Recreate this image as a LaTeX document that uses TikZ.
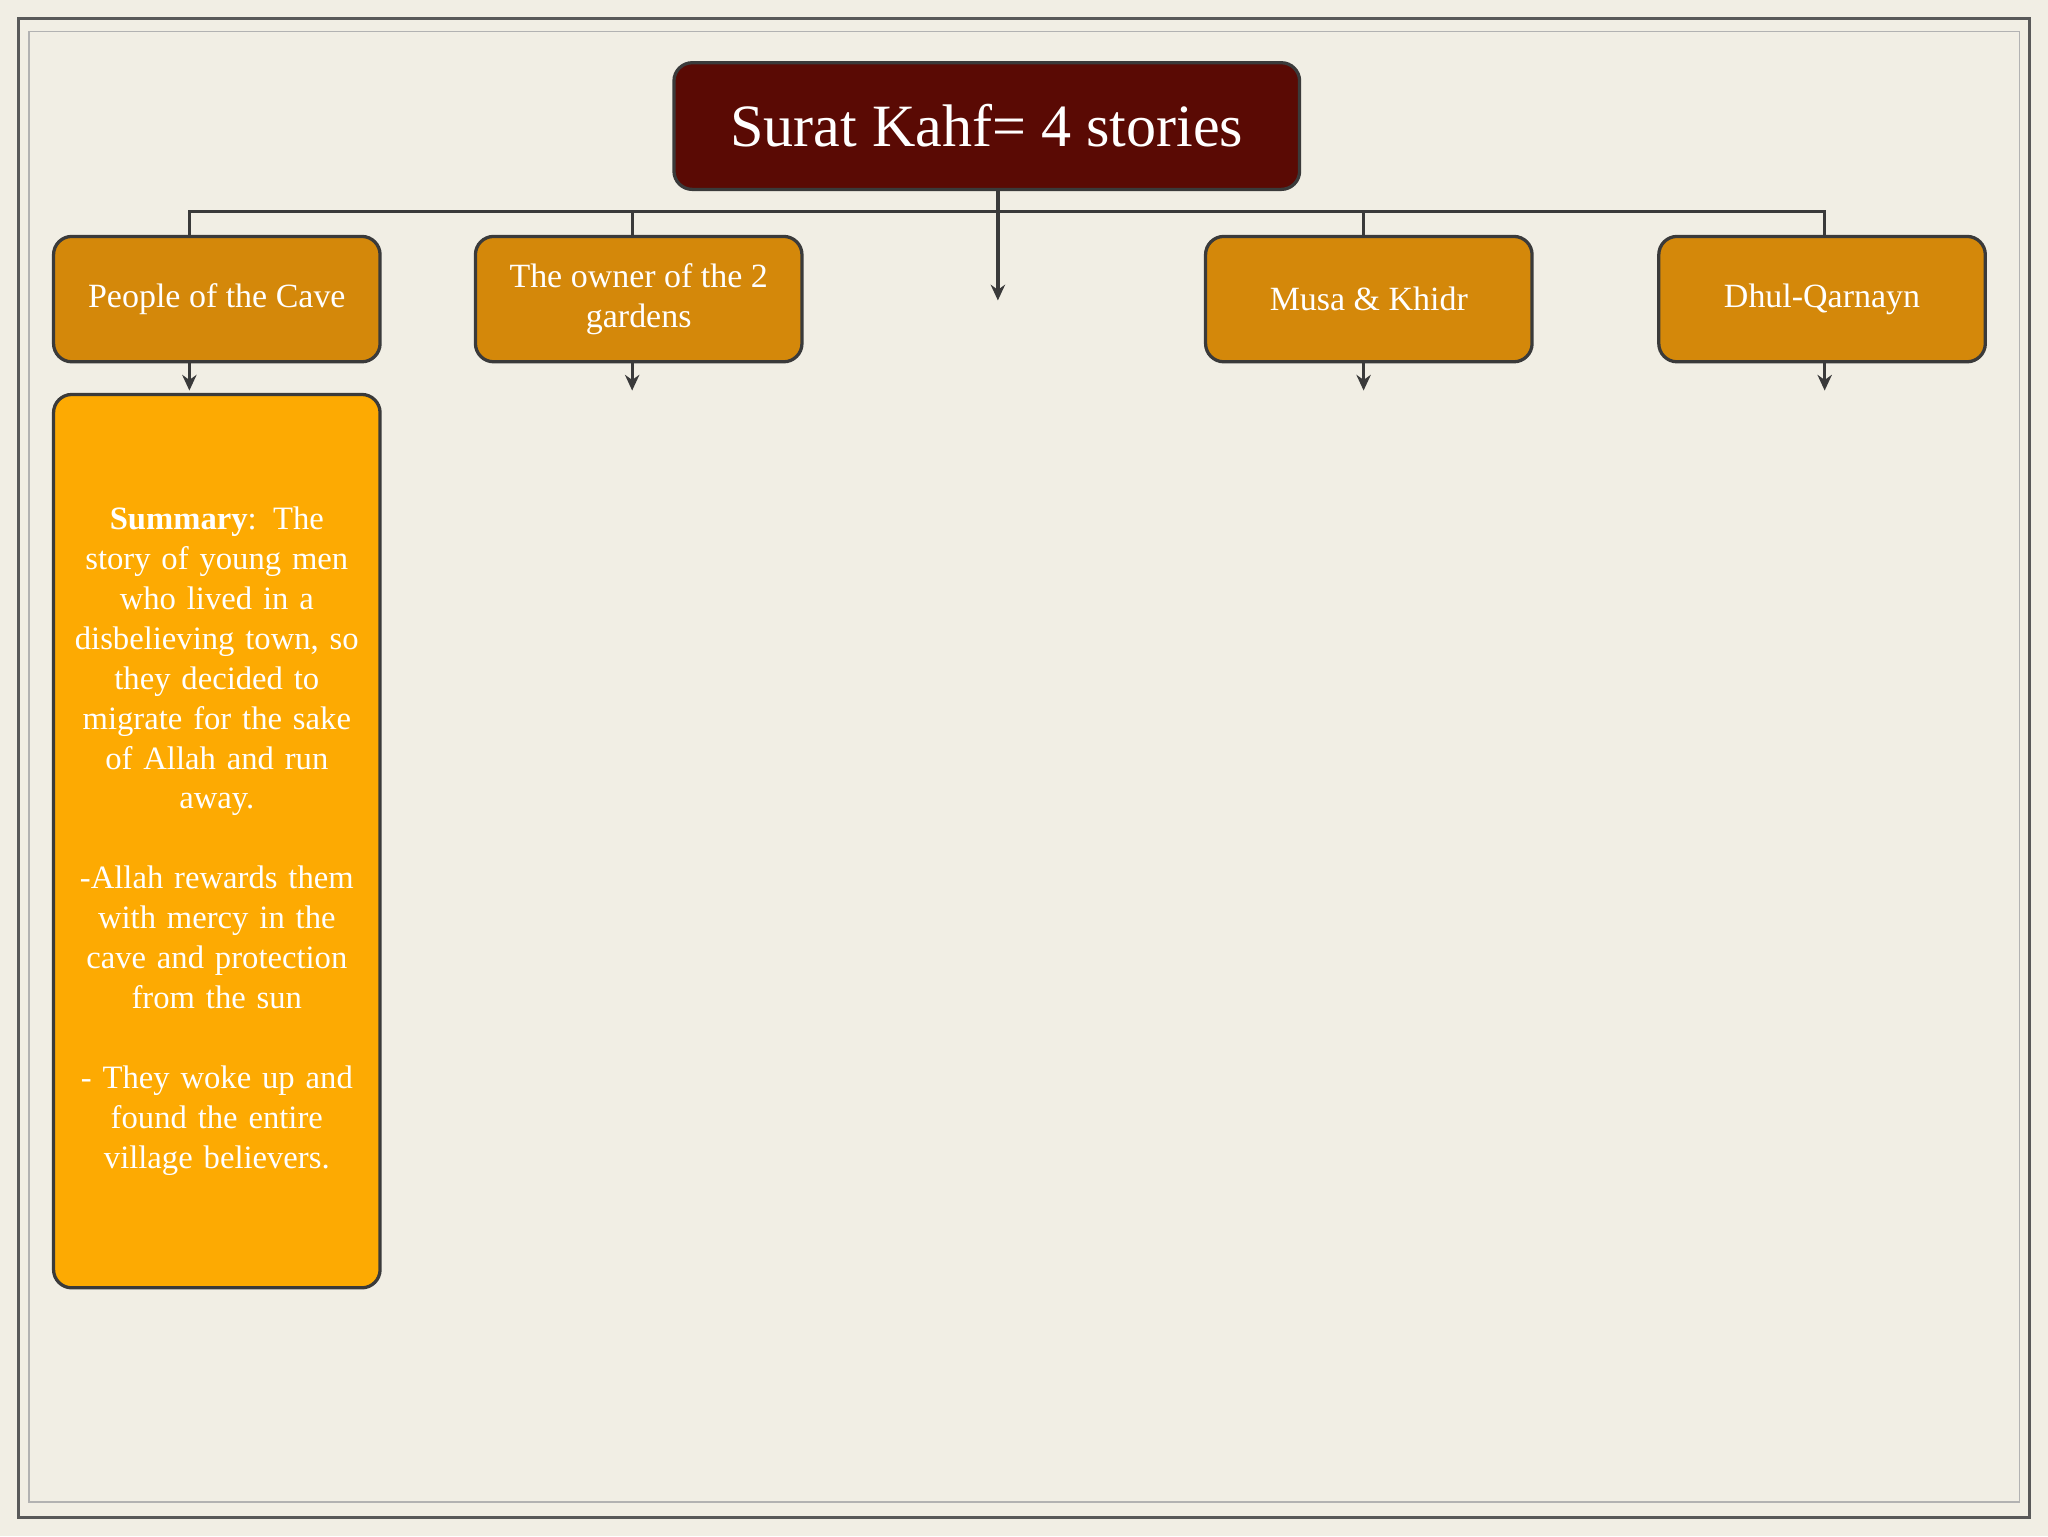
\documentclass[tikz,border=0pt]{standalone}
\usepackage{fontspec}
\setmainfont{Liberation Serif}
\usetikzlibrary{arrows.meta}
\definecolor{bg}{HTML}{F1EEE4}
\definecolor{maroon}{HTML}{5A0A04}
\definecolor{ochre}{HTML}{D4880A}
\definecolor{amber}{HTML}{FDAA02}
\definecolor{edge}{HTML}{3A3A3A}
\tikzset{
  box/.style={draw=edge,line width=2.5pt,rounded corners=14pt,text=white,align=center,inner sep=0pt},
  conn/.style={draw=edge,line width=2.5pt},
  arr/.style={conn,-{Stealth[length=12pt,width=11pt]}}
}
\begin{document}
\begin{tikzpicture}[x=1pt,y=-1pt]
\fill[bg] (0,0) rectangle (1568,1176);
\useasboundingbox (0,0) rectangle (1568,1176);
\draw[gray!70!black,line width=2pt] (14,14) rectangle (1554,1162);
\draw[gray!60,line width=1.2pt] (22,24) rectangle (1546,1150);
\node[box,fill=maroon,minimum width=479pt,minimum height=97pt,font=\fontsize{46}{50}\selectfont] (top) at (755.5,96.5) {Surat Kahf= 4 stories};
\node[box,fill=ochre,minimum width=250pt,minimum height=96pt,font=\fontsize{26}{31}\selectfont] (c1) at (166,229) {People of the Cave};
\node[box,fill=ochre,minimum width=250pt,minimum height=96pt,font=\fontsize{26}{31}\selectfont] (c2) at (489,229) {The owner of the 2\\gardens};
\node[box,fill=ochre,minimum width=250pt,minimum height=96pt,font=\fontsize{26}{31}\selectfont] (c3) at (1048,229) {Musa \& Khidr};
\node[box,fill=ochre,minimum width=250pt,minimum height=96pt,font=\fontsize{26}{31}\selectfont] (c4) at (1395,229) {Dhul-Qarnayn};
\node[box,fill=amber,minimum width=250pt,minimum height=684pt,font=\fontsize{25}{30.6}\selectfont,text width=240pt] (s1) at (166,644) {\textbf{Summary}: The\\story of young men\\who lived in a\\disbelieving town, so\\they decided to\\migrate for the sake\\of Allah and run\\away.\\[30.6pt]-Allah rewards them\\with mercy in the\\cave and protection\\from the sun\\[30.6pt]- They woke up and\\found the entire\\village believers.};
\coordinate (mid) at (764,230);
\draw[conn] (145,181) |- (1397,162) -- (1397,181);
\draw[conn] (484,162) -- (484,181);
\draw[conn] (1044,162) -- (1044,181);
\draw[arr] (764,145) -- (mid);
\draw[arr] (145,277) -- (145,299);
\draw[arr] (484,277) -- (484,299);
\draw[arr] (1044,277) -- (1044,299);
\draw[arr] (1397,277) -- (1397,299);
\end{tikzpicture}
\end{document}
